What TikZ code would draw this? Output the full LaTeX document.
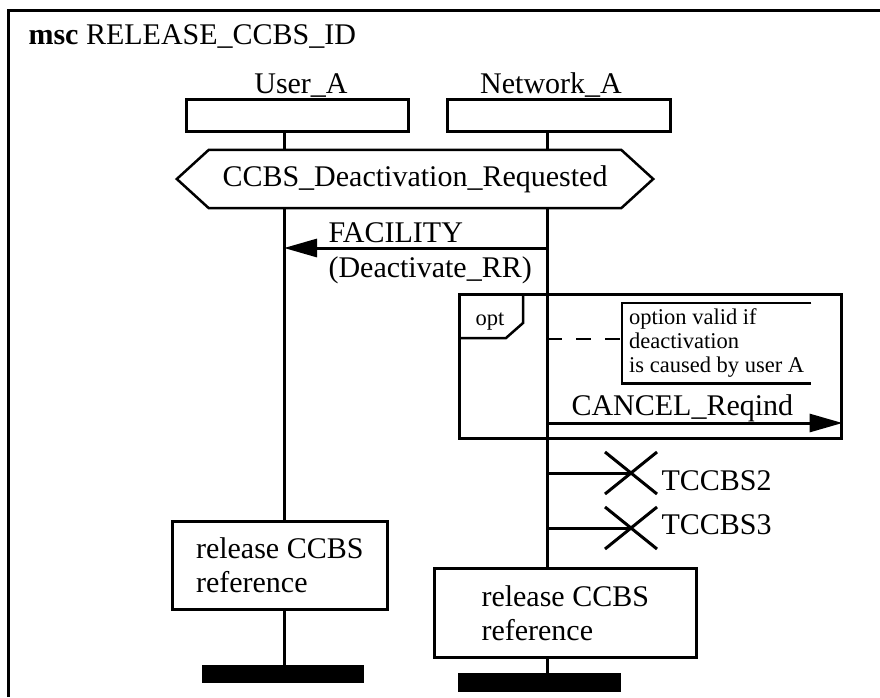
\documentclass[tikz,border=0pt]{standalone}
\usepackage{fontspec}
\setmainfont{Liberation Serif}
\usetikzlibrary{arrows.meta}

\begin{document}
\begin{tikzpicture}[x=1pt,y=-1pt,
    life/.style={line width=3pt},
    box/.style={draw,line width=2.5pt,inner sep=0pt},
    msg/.style={line width=3pt,-{Triangle[length=33pt,width=18pt]}},
    bar/.style={fill=black,inner sep=0pt,anchor=north west},
    big/.style={font=\fontsize{30}{34}\selectfont},
    small/.style={font=\fontsize{22.5}{24}\selectfont}]
    \useasboundingbox (0,0) rectangle (880,697);
    \draw[line width=3pt] (8,697) -- (8,10) -- (880,10);
    \node[big,anchor=base west] (title) at (25,44) {\textbf{msc} RELEASE\_CCBS\_ID};

    % instances
    \node[box,minimum width=222,minimum height=32,anchor=north west] (userbox) at (185,98) {};
    \node[box,minimum width=223,minimum height=32,anchor=north west] (netbox) at (446,98) {};
    \node[big,anchor=base] (userlbl) at (301,93) {User\_A};
    \node[big,anchor=base] (netlbl) at (551,93) {Network\_A};
    \coordinate (ul) at (284,0);
    \coordinate (nl) at (547,0);

    % condition
    \node[big,minimum width=476,minimum height=58,inner sep=0pt] (cond) at (415,179) {CCBS\_Deactivation\_Requested};
    \draw[line width=2.5pt] (cond.west) -- ([xshift=32pt]cond.north west) -- ([xshift=-32pt]cond.north east)
        -- (cond.east) -- ([xshift=-32pt]cond.south east) -- ([xshift=32pt]cond.south west) -- cycle;

    % references and ends
    \node[box,big,align=left,minimum width=215,minimum height=88,anchor=north west] (relA) at (171,520) {release CCBS\\reference};
    \node[box,big,align=left,minimum width=262,minimum height=89,anchor=north west] (relN) at (433,567) {release CCBS\\reference};
    \node[bar,minimum width=162,minimum height=18] (barA) at (202,665) {};
    \node[bar,minimum width=163,minimum height=19] (barN) at (458,673) {};

    \draw[life] (userbox.south -| ul) -- (cond.north -| ul);
    \draw[life] (netbox.south -| nl) -- (cond.north -| nl);
    \draw[life] (cond.south -| ul) -- (relA.north -| ul);
    \draw[life] (relA.south -| ul) -- (barA.north -| ul);
    \draw[life] (cond.south -| nl) -- (relN.north -| nl);
    \draw[life] (relN.south -| nl) -- (barN.north -| nl);

    % FACILITY
    \coordinate (facS) at (547,248);
    \draw[msg] (facS) -- (facS -| ul);
    \node[big,anchor=base west] (faclbl) at (325,242) {FACILITY};
    \node[big,anchor=base west] (facpar) at (325,277) {(Deactivate\_RR)};

    % opt
    \node[box,minimum width=382,minimum height=144,anchor=north west] (opt) at (458,293) {};
    \draw[line width=2.5pt] (458,338) -- (506,338) -- (523,323) -- (523,293);
    \node[small,anchor=base west] (optlbl) at (472,325) {opt};
    \node[small,align=left,inner sep=0pt,minimum width=189,minimum height=80,anchor=north west] (cmt) at (622,303)
        {option valid if\\deactivation\\is caused by user A};
    \draw[line width=2.5pt] (cmt.north east) -- (cmt.north west) -- (cmt.south west) -- (cmt.south east);
    \coordinate (cmtl) at (547,339);
    \draw[line width=2.5pt,dash pattern=on 15pt off 14pt] (cmtl) -- (cmtl -| cmt.west);
    \coordinate (canS) at (547,423);
    \draw[msg] (canS) -- (canS -| opt.east);
    \node[big,anchor=base west] (canlbl) at (568,415) {CANCEL\_Reqind};

    % timers
    \coordinate (t2) at (631,473);
    \coordinate (t3) at (631,528);
    \draw[life] (t2 -| nl) -- (t2);
    \draw[life] (t2) ++(-26,-21) -- ++(52,42) (t2) ++(-26,21) -- ++(52,-42);
    \node[big,anchor=base west] (t2lbl) at (658,490) {TCCBS2};
    \draw[life] (t3 -| nl) -- (t3);
    \draw[life] (t3) ++(-26,-21) -- ++(52,42) (t3) ++(-26,21) -- ++(52,-42);
    \node[big,anchor=base west] (t3lbl) at (658,534) {TCCBS3};
\end{tikzpicture}
\end{document}
